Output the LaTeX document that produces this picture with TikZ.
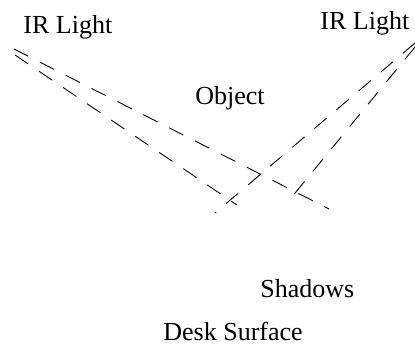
\documentclass[tikz,border=0pt]{standalone}
\usepackage{fontspec}
\setmainfont{Liberation Serif}
\usetikzlibrary{positioning}

\begin{document}
\begin{tikzpicture}[x=0.5pt, y=-0.5pt,
    txt/.style={font=\fontsize{13}{15}\selectfont, inner sep=0pt, anchor=base west},
    ray/.style={dash pattern=on 8pt off 6.5pt, line width=0.45pt}]
\useasboundingbox (0,0) rectangle (415,343);

\node[txt] (LL) at (23,33) {IR Light};
\node[txt] (RL) at (320,29.5) {IR Light};
\node[txt] (O) at (195,104) {Object};
\node[txt] (S) at (260,297) {Shadows};
\node[txt] (D) at (163,340) {Desk Surface};

% rays from the lights
\coordinate (L1) at (14,49);
\coordinate (L2) at (15,55);
\coordinate (R1) at (415,43);
\coordinate (R2) at (415,47);
\coordinate (A) at (329,209);
\coordinate (B) at (237,205);
\coordinate (C) at (215,213);
\coordinate (E) at (291,198);

\draw[ray] (L1) -- (A);
\draw[ray] (L2) -- (B);
\draw[ray] (R1) -- (C);
\draw[ray] (R2) -- (E);
\end{tikzpicture}
\end{document}
